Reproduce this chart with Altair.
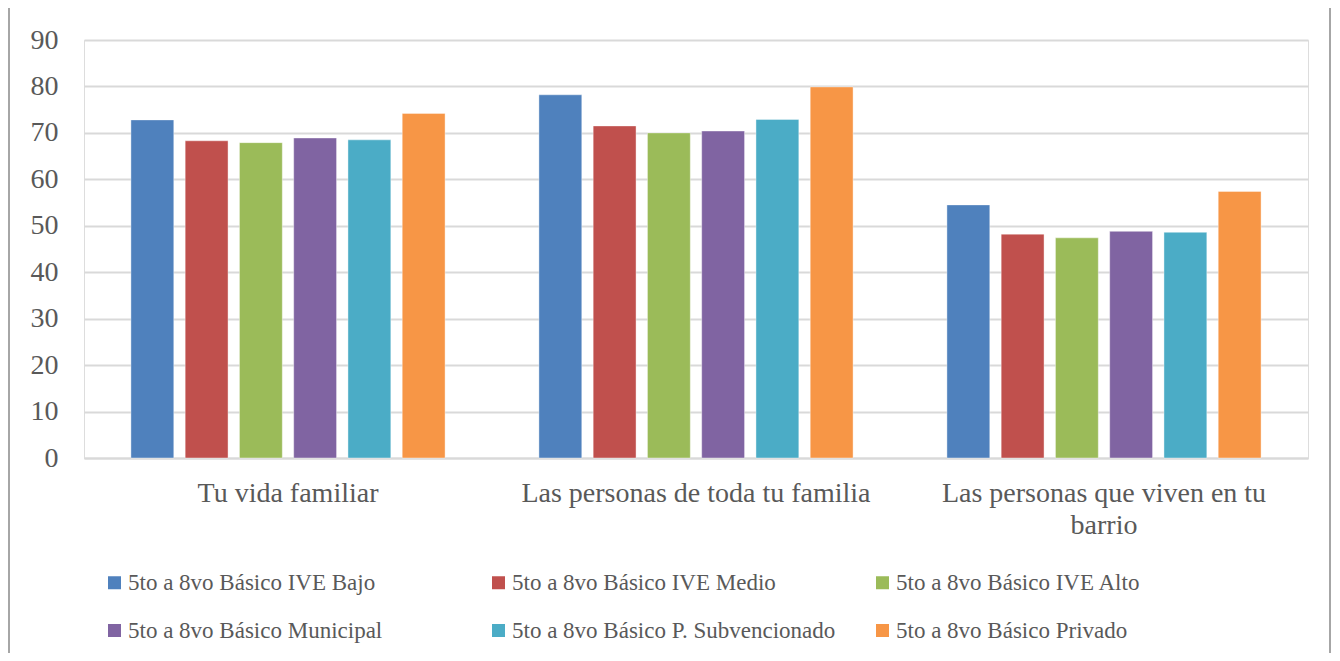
import altair as alt
import pandas as pd

categories = ["Tu vida familiar", "Las personas de toda tu familia", "Las personas que viven en tu barrio"]
series = [
    "5to a 8vo Básico IVE Bajo",
    "5to a 8vo Básico IVE Medio",
    "5to a 8vo Básico IVE Alto",
    "5to a 8vo Básico Municipal",
    "5to a 8vo Básico P. Subvencionado",
    "5to a 8vo Básico Privado",
]
colors = ["#4F81BD", "#C0504D", "#9BBB59", "#8064A2", "#4BACC6", "#F79646"]

ive_bajo = [72.8, 78.2, 54.5]
ive_medio = [68.3, 71.5, 48.2]
ive_alto = [67.9, 70.0, 47.4]
municipal = [68.9, 70.4, 48.8]
p_subvencionado = [68.5, 72.9, 48.6]
privado = [74.2, 79.9, 57.4]

y_ticks = [0, 10, 20, 30, 40, 50, 60, 70, 80, 90]

values = [ive_bajo, ive_medio, ive_alto, municipal, p_subvencionado, privado]
rows = []
for s, vals in zip(series, values):
    for c, v in zip(categories, vals):
        rows.append({"categoria": c, "serie": s, "valor": v})
df = pd.DataFrame(rows)

FONT = "Liberation Serif"
TXT = "#595959"
GRID = "#d9d9d9"

label_expr = ("datum.value == 'Las personas que viven en tu barrio' ? "
              "['Las personas que viven en tu', 'barrio'] : datum.value")

bars = alt.Chart(df).mark_bar(stroke="white", strokeWidth=1, strokeOpacity=0.4).encode(
    x=alt.X(
        "categoria:N",
        sort=categories,
        scale=alt.Scale(paddingInner=0.23, paddingOuter=0.115),
        axis=alt.Axis(
            title=None, labelAngle=0, labelFont=FONT, labelFontSize=28, labelColor=TXT,
            labelPadding=21, ticks=False, domainColor=GRID, domainWidth=2,
            labelLineHeight=32, labelExpr=label_expr, labelLimit=0, labelOverlap=False,
            labelBaseline="top",
        ),
    ),
    xOffset=alt.XOffset("serie:N", sort=series, scale=alt.Scale(paddingInner=0.21, paddingOuter=0)),
    y=alt.Y(
        "valor:Q",
        scale=alt.Scale(domain=[0, 90], nice=False),
        axis=alt.Axis(
            title=None, values=y_ticks, domain=False, ticks=False, gridColor=GRID, gridWidth=2,
            labelFont=FONT, labelFontSize=28, labelColor=TXT, labelPadding=26,
        ),
    ),
    color=alt.Color(
        "serie:N",
        sort=series,
        scale=alt.Scale(domain=series, range=colors),
        legend=alt.Legend(
            title=None, orient="none", legendX=19, legendY=531, direction="horizontal",
            columns=3, symbolType="square", symbolSize=169, symbolStrokeWidth=0,
            labelFont=FONT, labelFontSize=23, labelColor=TXT, labelOffset=2, labelLimit=0,
            columnPadding=35, rowPadding=24, gridAlign="all", padding=0,
        ),
    ),
)

frame = alt.Chart(pd.DataFrame({"f": [0]})).mark_rect(
    fill=None, stroke="#a6a6a6", strokeWidth=2
).encode(
    x=alt.value(-75), x2=alt.value(1246), y=alt.value(-34), y2=alt.value(640)
)

chart = alt.layer(frame, bars).properties(
    width=1224,
    height=418,
    autosize=alt.AutoSizeParams(type="none"),
    padding={"left": 76, "top": 32, "right": 24, "bottom": 195},
).configure_view(stroke=None).configure(background="white")

chart.save("out.html", embed_options={"renderer": "svg", "actions": False})
